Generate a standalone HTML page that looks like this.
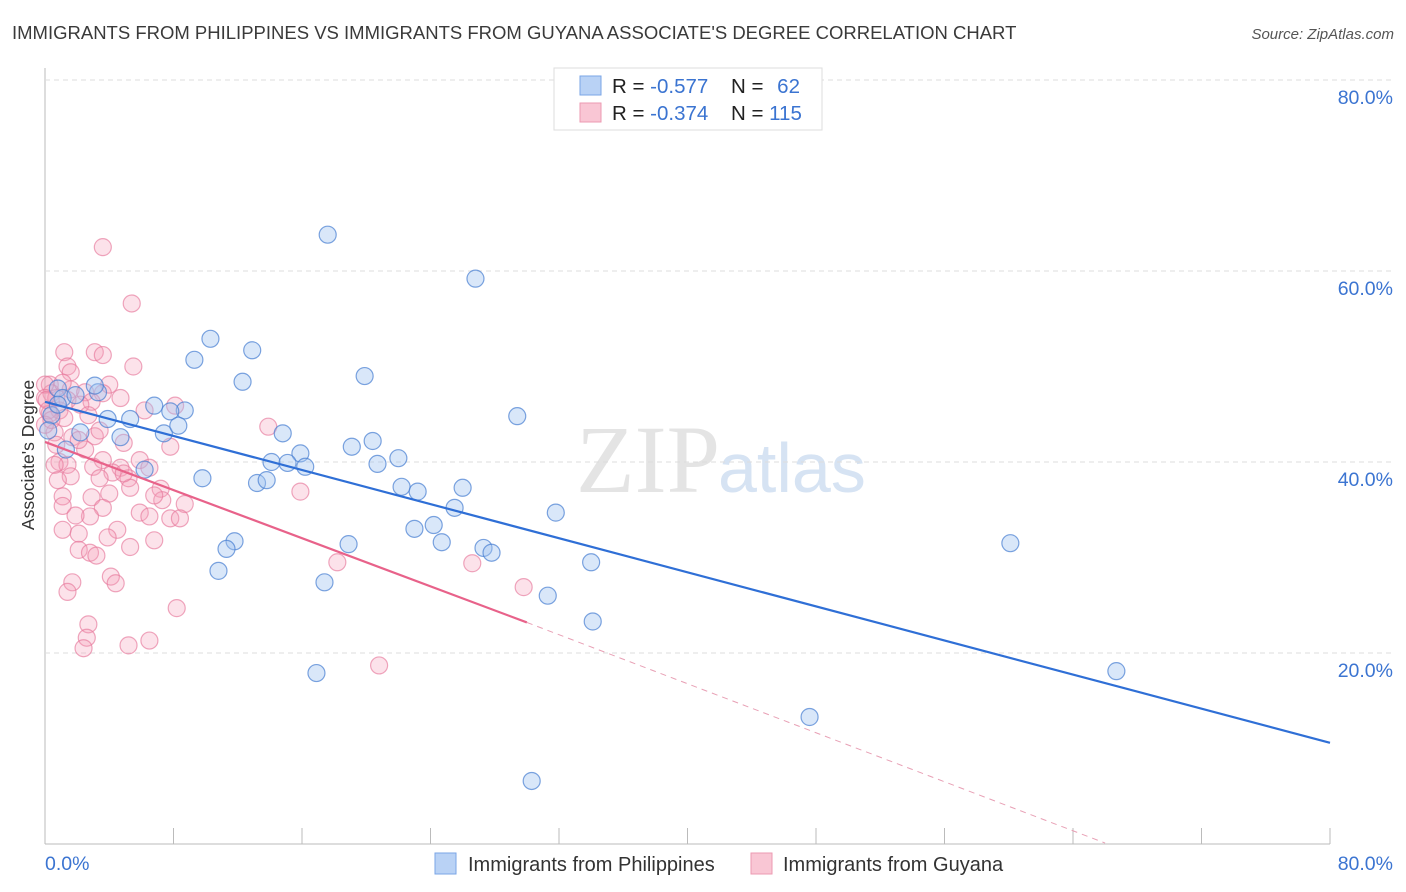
<!DOCTYPE html>
<html><head><meta charset="utf-8">
<style>
body{margin:0;background:#fff;font-family:"Liberation Sans",sans-serif;}
#wrap{position:relative;width:1406px;height:892px;overflow:hidden;}
svg{position:absolute;left:0;top:0;}
</style></head>
<body>
<div id="wrap">
<svg id="c" width="1406" height="892">
<text x="12" y="39" font-size="18.5" fill="#3a3a3a">IMMIGRANTS FROM PHILIPPINES VS IMMIGRANTS FROM GUYANA ASSOCIATE'S DEGREE CORRELATION CHART</text>
<text x="1394" y="39" font-size="15" fill="#555" font-style="italic" text-anchor="end">Source: ZipAtlas.com</text>
<text x="720" y="492" font-size="96" fill="#e4e4e4" text-anchor="end" font-family="Liberation Serif">ZIP</text>
<text x="718" y="492" font-size="70" fill="#d6e3f3">atlas</text>
<text transform="translate(34,455) rotate(-90)" font-size="17.5" fill="#333" text-anchor="middle">Associate's Degree</text>
<g id="grid"></g><g id="marks"></g>
<g>
<rect x="554" y="68" width="268" height="62" fill="#fff" stroke="#ddd"/>
<rect x="580" y="76" width="21" height="19" fill="#b9d2f5" stroke="#7aa5e6"/>
<rect x="580" y="103" width="21" height="19" fill="#f9c6d4" stroke="#ec9ab2"/>
<text x="612" y="93" font-size="20.5" fill="#222">R = <tspan fill="#3b74d1">-0.577</tspan></text>
<text x="731" y="93" font-size="20.5" fill="#222">N = <tspan fill="#3b74d1" dx="8">62</tspan></text>
<text x="612" y="120" font-size="20.5" fill="#222">R = <tspan fill="#3b74d1">-0.374</tspan></text>
<text x="731" y="120" font-size="20.5" fill="#222">N = <tspan fill="#3b74d1">115</tspan></text>
</g>
<g>
<rect x="435" y="853" width="21" height="21" fill="#b9d2f5" stroke="#7aa5e6"/>
<text x="468" y="871" font-size="20" fill="#333">Immigrants from Philippines</text>
<rect x="751" y="853" width="21" height="21" fill="#f9c6d4" stroke="#ec9ab2"/>
<text x="783" y="871" font-size="20" fill="#333">Immigrants from Guyana</text>
</g>
</svg>
</div>
<script>
const blueX=[17.6,26.8,10.3,12.9,9.3,19.9,12.3,6.8,8.7,7.8,29.4,5.3,3.9,14.8,20.4,19.1,7.4,8.3,4.7,15.9,22.0,14.1,15.1,16.2,20.7,9.8,13.2,13.8,22.2,23.2,26.0,6.2,25.5,31.8,24.2,23.0,24.7,11.8,11.3,18.9,27.3,27.8,34.0,60.1,17.4,10.8,31.3,34.1,16.9,66.7,47.6,30.3,0.8,1.1,3.3,3.1,0.4,0.2,1.3,2.2,0.8,1.9];
const blueY=[63.8,59.2,52.9,51.7,50.7,49.0,48.4,45.9,45.4,45.3,44.8,44.5,44.5,43.0,42.2,41.6,43.0,43.8,42.6,40.9,40.4,40.0,39.9,39.5,39.8,38.3,37.8,38.1,37.4,36.9,37.3,39.2,35.2,34.7,33.4,33.0,31.6,31.7,30.9,31.4,31.0,30.5,29.5,31.5,27.4,28.6,26.0,23.3,17.9,18.1,13.3,6.6,47.7,46.7,47.3,48.0,44.9,43.3,41.3,43.1,46.0,47.0];
const pinkX=[3.6,5.4,1.2,3.1,3.6,1.4,5.5,1.6,0.3,0.4,0.7,1.6,2.5,1.4,4.0,4.7,3.6,2.9,0.9,1.2,0.3,2.2,6.2,8.1,13.9,0.6,1.7,3.1,4.9,7.8,2.5,0.9,1.4,3.6,4.7,3.0,4.2,5.2,1.6,3.4,5.3,7.2,4.0,15.9,1.1,2.9,1.1,7.3,8.7,5.9,6.5,7.8,8.4,3.6,2.8,1.1,4.5,2.1,3.9,5.3,6.8,2.1,2.8,3.2,18.2,26.6,29.8,4.1,4.4,1.7,1.4,8.2,2.7,2.6,2.4,5.2,6.5,20.8,0,0,0.2,0,0.4,0.7,2.1,0.6,0.8,1.9,0.1,1.1,2.7,3.4,5.9,6.8,6.5,4.9];
const pinkY=[62.5,56.6,51.5,51.5,51.2,50.0,50.0,49.4,48.1,47.2,46.7,47.6,47.3,46.5,48.1,46.7,47.2,46.3,45.4,44.6,45.1,46.0,45.4,45.9,43.7,43.1,42.6,42.7,42.0,41.6,41.3,40.0,39.7,40.2,39.4,39.5,38.9,38.3,38.5,38.3,37.3,37.2,36.7,36.9,36.4,36.3,35.4,36.0,35.6,34.7,34.3,34.1,34.1,35.2,34.3,32.9,32.9,32.5,32.1,31.1,31.8,30.8,30.5,30.2,29.5,29.4,26.9,28.0,27.3,27.4,26.4,24.7,23.0,21.6,20.5,20.8,21.3,18.7,48.1,46.7,45.4,43.9,44.4,41.8,42.3,39.7,38.1,34.4,46.5,48.3,44.9,43.3,40.2,36.5,39.4,38.8];
const blueTrend=[0,46.3,80,10.6];
const pinkTrend=[0,42.1,30.0,23.2,66.0,0.1];
const yTicks=[20,40,60,80];
const yTickLabels=["20.0%","40.0%","60.0%","80.0%"];
const xTickVals=[0,8,16,24,32,40,48,56,64,72,80];

const NS="http://www.w3.org/2000/svg";
const X0=45,X1=1330,Y0=844,Y1=80;
function sx(v){return X0+(X1-X0)*v/80;}
function sy(v){return Y0-(Y0-Y1)*v/80;}
function mk(t,a,p){const e=document.createElementNS(NS,t);for(const k in a)e.setAttribute(k,a[k]);p.appendChild(e);return e;}
const grid=document.getElementById('grid'),marks=document.getElementById('marks');
const ax=mk('line',{x1:X0,y1:68,x2:X0,y2:Y0,stroke:'#bbb'},grid);


const bx=mk('line',{x1:X0,y1:Y0,x2:X1,y2:Y0,stroke:'#bbb'},grid);


yTicks.forEach((v,i)=>{
 const g=mk('line',{x1:X0,y1:sy(v),x2:1394,y2:sy(v),stroke:'#ddd','stroke-dasharray':'5,4'},grid);
 
 
 const t=mk('text',{x:1393,y:sy(v)+24,'font-size':19.5,fill:'#3b74d1','text-anchor':'end'},grid);
 t.textContent=yTickLabels[i];
 
 
});
xTickVals.forEach(v=>{
 const l=mk('line',{x1:sx(v),y1:Y0-16,x2:sx(v),y2:Y0,stroke:'#bbb'},grid);
 
 
});
[[0,"0.0%",'start',45],[80,"80.0%",'end',1393]].forEach(a=>{
 const t=mk('text',{x:a[3],y:870,'font-size':19.5,fill:'#3b74d1','text-anchor':a[2]},grid);
 t.textContent=a[1];
 
 
});
pinkX.forEach((x,i)=>{
 const c=mk('circle',{cx:sx(x),cy:sy(pinkY[i]),r:8.5,fill:'rgba(244,160,185,0.3)',stroke:'rgba(230,120,155,0.65)','stroke-width':1.2},marks);
 
 
});
blueX.forEach((x,i)=>{
 const c=mk('circle',{cx:sx(x),cy:sy(blueY[i]),r:8.5,fill:'rgba(160,195,240,0.4)',stroke:'rgba(70,125,210,0.7)','stroke-width':1.2},marks);
 
 
});
const bl=mk('line',{x1:sx(blueTrend[0]),y1:sy(blueTrend[1]),x2:sx(blueTrend[2]),y2:sy(blueTrend[3]),stroke:'#2f6fd6','stroke-width':2.2},marks);


const pl=mk('line',{x1:sx(pinkTrend[0]),y1:sy(pinkTrend[1]),x2:sx(pinkTrend[2]),y2:sy(pinkTrend[3]),stroke:'#e8628a','stroke-width':2.2},marks);


const pd=mk('line',{x1:sx(pinkTrend[2]),y1:sy(pinkTrend[3]),x2:sx(pinkTrend[4]),y2:sy(pinkTrend[5]),stroke:'#e8a0b5','stroke-width':1,'stroke-dasharray':'6,5'},marks);


</script>
</body></html>
